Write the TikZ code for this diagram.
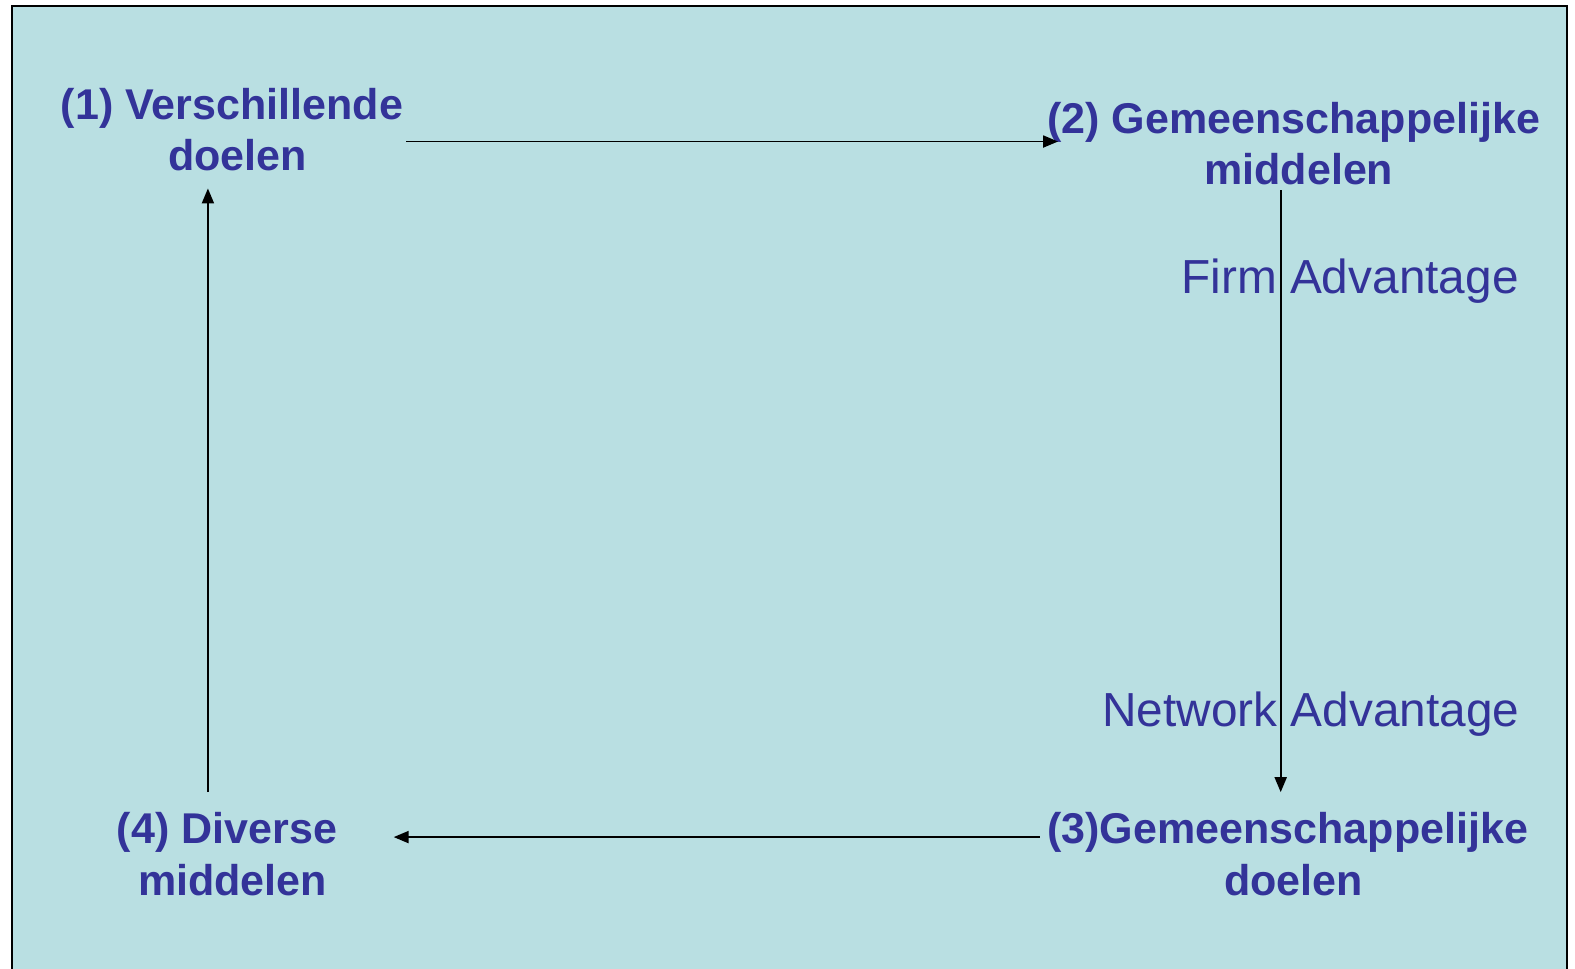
\documentclass[tikz,border=0pt]{standalone}
\usepackage{fontspec}
\setmainfont{Liberation Sans}
\usetikzlibrary{arrows.meta}

\definecolor{panel}{RGB}{185,223,226}
\definecolor{textblue}{RGB}{51,51,153}

\begin{document}
\begin{tikzpicture}[x=0.020089cm, y=-0.020083cm,
    stage/.style={text=textblue, font=\fontsize{24.5}{29.3}\selectfont\bfseries, align=center, inner sep=0pt, anchor=center},
    lbl/.style={text=textblue, font=\fontsize{27.2}{31}\selectfont, inner sep=0pt, anchor=center},
    arr/.style={line width=1.1pt, -{Triangle[length=0.3cm, width=0.24cm]}}]

    % Draw the background panel
    \useasboundingbox (0,0) rectangle (1568,965);
    \fill[white] (0,0) rectangle (1568,965);
    \fill[panel] (12,6) rectangle (1560,975);
    \draw[line width=1.2pt] (12,975) -- (12,6) -- (1560,6) -- (1560,975);

    % Draw the four stages
    \node[stage] (s1) at (231,129) {(1) Verschillende\\\hspace*{0.22cm}doelen};
    \node[stage] (s2) at (1288,143) {(2) Gemeenschappelijke\\\hspace*{0.2cm}middelen};
    \node[stage] (s3) at (1282,851) {(3)Gemeenschappelijke\\\hspace*{0.24cm}doelen};
    \node[stage] (s4) at (226,851) {(4) Diverse\\\hspace*{0.22cm}middelen};

    % Connect the stages
    \draw[arr] ([shift={(3,12)}]s1.east) -- ([shift={(11,-2)}]s2.west);
    \draw[arr] ([shift={(-13,5)}]s2.south) -- ([shift={(-7,-20)}]s3.north);
    \draw[arr] ([shift={(-7,-17)}]s3.west) -- ([shift={(56,-17)}]s4.east);
    \draw[arr] ([shift={(-19,-20)}]s4.north) -- ([shift={(-24,17)}]s1.south);

    % Label the advantages
    \node[lbl] (firm) at (1344,280) {Firm Advantage};
    \node[lbl] (net) at (1305,712) {Network Advantage};

\end{tikzpicture}
\end{document}
